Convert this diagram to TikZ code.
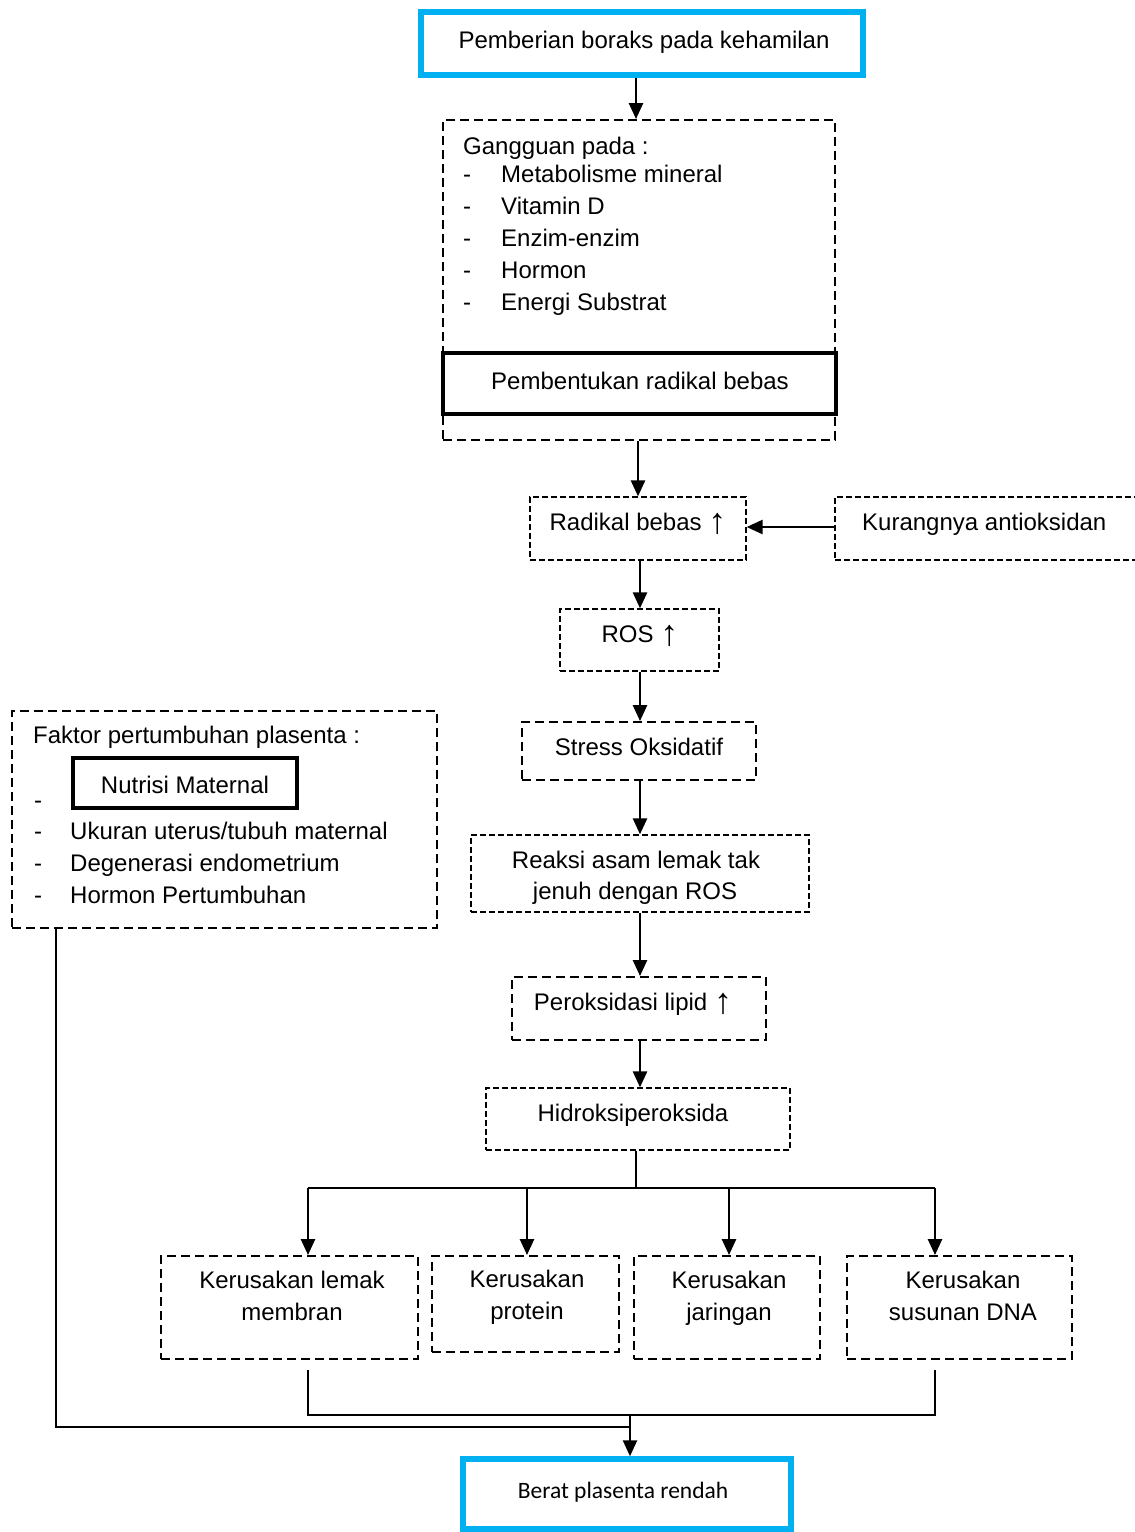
\documentclass[tikz,border=0pt]{standalone}
\usepackage{fontspec}
\setmainfont{Liberation Sans}
\newfontfamily\calfont{Carlito}
\newcommand{\uparr}{\raisebox{-3pt}{\fontsize{36}{36}\selectfont ↑}}
\usetikzlibrary{arrows.meta,fit,calc}
\definecolor{boxblue}{RGB}{0,176,240}
\begin{document}
\begin{tikzpicture}[x=1pt,y=-1pt,
  arr/.style={line width=2.6pt,-{Triangle[length=16pt,width=14pt]}},
  ln/.style={line width=2.6pt},
  dbox/.style={draw,line width=1.9pt,dash pattern=on 9pt off 5pt,inner sep=0pt},
  tbox/.style={draw,line width=1.3pt,dash pattern=on 6pt off 3pt,inner sep=0pt},
  sbox/.style={draw,line width=3.8pt,inner sep=0pt},
  bbox/.style={draw=boxblue,line width=5.5pt,inner sep=0pt},
  t/.style={font=\fontsize{24}{28}\selectfont,inner sep=0pt,anchor=base,yshift=-8.6pt},
  tw/.style={t,anchor=base west}]
\useasboundingbox (0,0) rectangle (1135,1532);
\fill[white] (0,0) rectangle (1135,1532);

% boxes
\node[bbox,fit={(421,12) (863,75)}] (top) {};
\node[dbox,fit={(443,120) (835,440)}] (gang) {};
\node[sbox,fit={(443,353) (836,414)}] (pemb) {};
\node[tbox,fit={(530,497) (746,560)}] (rad) {};
\node[tbox,fit={(835,497) (1145,560)}] (kur) {};
\node[tbox,fit={(560,609) (719,671)}] (ros) {};
\node[dbox,fit={(522,722) (756,780)}] (stress) {};
\node[tbox,fit={(471,835) (809,912)}] (reaksi) {};
\node[dbox,fit={(512,977) (766,1040)}] (perok) {};
\node[tbox,fit={(486,1088) (790,1150)}] (hidro) {};
\node[dbox,fit={(161,1256) (418,1359)}] (k1) {};
\node[dbox,fit={(432,1256) (619,1352)}] (k2) {};
\node[dbox,fit={(634,1256) (820,1359)}] (k3) {};
\node[dbox,fit={(847,1256) (1072,1359)}] (k4) {};
\node[dbox,line width=1.6pt,fit={(12,711) (437,928)}] (fak) {};
\node[sbox,fit={(73,758) (297,808)}] (nutri) {};
\node[bbox,fit={(463,1459) (791,1529)}] (berat) {};

% texts
\node[t] (tTop) at (644,40) {Pemberian boraks pada kehamilan};
\node[tw] (tG0) at (463,146) {Gangguan pada :};
\node[tw] (tG1d) at (463,174) {-};
\node[tw] (tG1) at (501,174) {Metabolisme mineral};
\node[tw] (tG2d) at (463,206) {-};
\node[tw] (tG2) at (501,206) {Vitamin D};
\node[tw] (tG3d) at (463,238) {-};
\node[tw] (tG3) at (501,238) {Enzim-enzim};
\node[tw] (tG4d) at (463,270) {-};
\node[tw] (tG4) at (501,270) {Hormon};
\node[tw] (tG5d) at (463,302) {-};
\node[tw] (tG5) at (501,302) {Energi Substrat};
\node[t] (tPemb) at (640,381) {Pembentukan radikal bebas};
\node[t] (tRad) at (638,522) {Radikal bebas \uparr};
\node[tw] (tKur) at (862,522) {Kurangnya antioksidan};
\node[t] (tRos) at (640,634) {ROS \uparr};
\node[t] (tStress) at (639,747) {Stress Oksidatif};
\node[t] (tRe1) at (636,860) {Reaksi asam lemak tak};
\node[t] (tRe2) at (635,891) {jenuh dengan ROS};
\node[t] (tPer) at (633,1002) {Peroksidasi lipid \uparr};
\node[t] (tHid) at (633,1113) {Hidroksiperoksida};
\node[t] (tK1a) at (292,1280) {Kerusakan lemak};
\node[t] (tK1b) at (292,1312) {membran};
\node[t] (tK2a) at (527,1279) {Kerusakan};
\node[t] (tK2b) at (527,1311) {protein};
\node[t] (tK3a) at (729,1280) {Kerusakan};
\node[t] (tK3b) at (729,1312) {jaringan};
\node[t] (tK4a) at (963,1280) {Kerusakan};
\node[t] (tK4b) at (963,1312) {susunan DNA};
\node[tw] (tF0) at (33,735) {Faktor pertumbuhan plasenta :};
\node[t] (tNut) at (185,785) {Nutrisi Maternal};
\node[tw] (tF1d) at (34,800) {-};
\node[tw] (tF2d) at (34,831) {-};
\node[tw] (tF2) at (70,831) {Ukuran uterus/tubuh maternal};
\node[tw] (tF3d) at (34,863) {-};
\node[tw] (tF3) at (70,863) {Degenerasi endometrium};
\node[tw] (tF4d) at (34,895) {-};
\node[tw] (tF4) at (70,895) {Hormon Pertumbuhan};
\node[t,font=\calfont\fontsize{23.5}{28}\selectfont] (tBer) at (623,1490) {Berat plasenta rendah};

% helper coordinates
\coordinate (cA) at (636,0);
\coordinate (cB) at (638,0);
\coordinate (cC) at (640,0);
\coordinate (cY) at (0,527);
\coordinate (split) at (636,1188);
\coordinate (s1) at (308,1188);
\coordinate (s2) at (527,1188);
\coordinate (s3) at (729,1188);
\coordinate (s4) at (935,1188);
\coordinate (m1) at (308,1370);
\coordinate (mL) at (308,1415);
\coordinate (mR) at (935,1415);
\coordinate (m4) at (935,1370);
\coordinate (mj) at (630,1415);
\coordinate (fL) at (56,0);
\coordinate (fB) at (56,1427);
\coordinate (fE) at (630,1427);

% connectors
\draw[arr] (top.south -| cA) -- (gang.north -| cA);
\draw[arr] (gang.south -| cB) -- (rad.north -| cB);
\draw[arr] (kur.west |- cY) -- (rad.east |- cY);
\draw[arr] (rad.south -| cC) -- (ros.north -| cC);
\draw[arr] (ros.south -| cC) -- (stress.north -| cC);
\draw[arr] (stress.south -| cC) -- (reaksi.north -| cC);
\draw[arr] (reaksi.south -| cC) -- (perok.north -| cC);
\draw[arr] (perok.south -| cC) -- (hidro.north -| cC);
\draw[ln] (hidro.south -| split) -- (split);
\draw[ln] (s1) -- (s4);
\draw[arr] (s1) -- (k1.north -| s1);
\draw[arr] (s2) -- (k2.north -| s2);
\draw[arr] (s3) -- (k3.north -| s3);
\draw[arr] (s4) -- (k4.north -| s4);
\draw[ln] (m1) -- (mL) -- (mR) -- (m4);
\draw[line width=2pt] (fak.south -| fL) -- (fB) -- (fE);
\draw[arr] (mj) -- (berat.north -| mj);
\end{tikzpicture}
\end{document}
